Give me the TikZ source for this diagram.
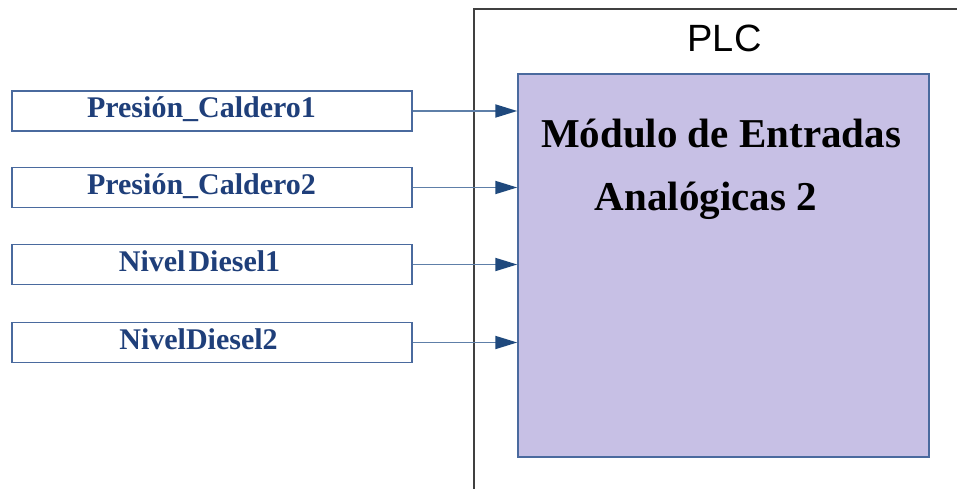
\documentclass[tikz,border=0pt]{standalone}
\usepackage{fontspec}
\setmainfont{Liberation Serif}
\setsansfont{Liberation Sans}
\usetikzlibrary{arrows.meta}
\definecolor{boxblue}{HTML}{4A6A9E}
\definecolor{txtblue}{HTML}{1F3F7A}
\definecolor{linblue}{HTML}{5E7FA8}
\definecolor{headblue}{HTML}{1F497D}
\definecolor{modfill}{HTML}{C7C0E5}
\definecolor{plcgray}{HTML}{404040}
\tikzset{
  inbox/.style={draw=boxblue, line width=1.5pt, fill=white, minimum width=400pt, minimum height=40pt,
    inner sep=0pt, text height=21pt, text depth=7pt, text=txtblue,
    font=\fontsize{30}{36}\selectfont\bfseries},
  sig/.style={draw=linblue, line width=1.9pt, -{Triangle[length=22pt,width=13pt,color=headblue]}},
  modbox/.style={draw=boxblue, line width=1.5pt, fill=modfill, minimum width=411pt, minimum height=383pt, inner sep=0pt},
  modtext/.style={anchor=base, inner sep=0pt, font=\fontsize{41}{48}\selectfont\bfseries},
  plcbox/.style={draw=plcgray, line width=2pt},
}
\begin{document}
\begin{tikzpicture}[x=1pt,y=-1pt]
\useasboundingbox (0,0) rectangle (957,489);
\draw[plcbox] (474,9) rectangle (975,505);
\node[anchor=base, inner sep=0pt, font=\sffamily\fontsize{38}{40}\selectfont] (plc) at (724.5,52) {PLC};
\node[modbox] (mod) at (723.5,265.5) {};
\node[modtext] (t1) at (721,148) {Módulo de Entradas};
\node[modtext] (t2) at (706,210) {Analógicas 2};
\node[inbox] (in1) at (212,111) {Presión\_Caldero1\kern21pt};
\node[inbox] (in2) at (212,187.5) {Presión\_Caldero2\kern21pt};
\node[inbox] (in3) at (212,264.5) {Nivel\kern3pt Diesel1\kern25pt};
\node[inbox] (in4) at (212,342.5) {NivelDiesel2\kern27pt};
\foreach \i in {1,2,3,4}{
  \draw[sig] (in\i.east) -- (in\i.east -| mod.west);
}
\end{tikzpicture}
\end{document}
